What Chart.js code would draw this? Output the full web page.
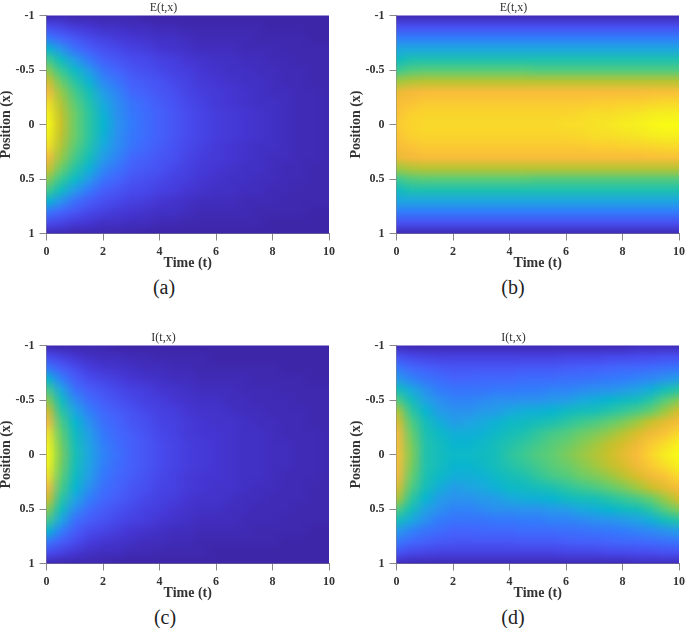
<!DOCTYPE html>
<html>
<head>
<meta charset="utf-8">
<script src="https://cdn.jsdelivr.net/npm/chart.js@4/dist/chart.umd.min.js"></script>
<style>
    html, body { margin:0; padding:0; background:#fff; overflow:hidden; }
    body { position:relative; width:685px; height:628px; }
    canvas { position:absolute; }
    .caption { position:absolute; width:60px; text-align:center; font:20px "Liberation Serif", serif; color:#222; }
</style>
</head>
<body>
<canvas id="chartA" width="341" height="272" style="left:-2px;top:0"></canvas>
<canvas id="chartB" width="337" height="272" style="left:348px;top:0"></canvas>
<canvas id="chartC" width="341" height="272" style="left:-2px;top:330px"></canvas>
<canvas id="chartD" width="337" height="272" style="left:348px;top:330px"></canvas>
<div class="caption" style="left:134px;top:276px">(a)</div>
<div class="caption" style="left:483px;top:276px">(b)</div>
<div class="caption" style="left:135px;top:606px">(c)</div>
<div class="caption" style="left:483px;top:606px">(d)</div>
<script>
// Grid the surfaces were read on
const timeGrid = [0,0.5,1,1.5,2,2.5,3,3.5,4,4.5,5,5.5,6,6.5,7,7.5,8,8.5,9,9.5,10];
const positionGrid = [-1,-0.9,-0.8,-0.7,-0.6,-0.5,-0.4,-0.3,-0.2,-0.1,0,0.1,0.2,0.3,0.4,0.5,0.6,0.7,0.8,0.9,1];
const timeTicks = [0,2,4,6,8,10];
const positionTicks = [-1,-0.5,0,0.5,1];
const titles = ["E(t,x)","E(t,x)","I(t,x)","I(t,x)"];

// Surface values in percent of the colour range, one line per position
const surfaceA = [
    [2,2,1,1,1,1,1,0,0,0,0,0,0,0,0,0,0,0,0,0,0],
    [12,10,7,6,4,4,3,3,2,2,1,1,1,1,1,1,0,0,0,0,0],
    [24,19,15,11,9,7,6,5,4,4,3,2,2,2,2,1,1,1,1,0,0],
    [44,32,22,17,13,11,9,8,6,5,4,3,3,3,2,2,2,1,1,1,1],
    [58,47,34,24,18,15,12,11,9,8,6,5,4,4,3,3,2,2,1,1,1],
    [67,56,46,34,23,19,15,13,11,9,8,6,5,4,4,3,3,2,2,1,1],
    [76,63,53,42,29,23,18,16,14,11,9,7,6,5,4,4,3,2,2,1,1],
    [82,68,58,49,35,27,20,18,15,13,10,8,7,6,5,4,3,3,2,2,1],
    [91,71,61,52,39,30,23,20,17,14,11,9,7,6,5,4,4,3,2,2,1],
    [97,73,63,54,42,31,24,21,18,15,12,10,8,7,6,5,4,3,2,2,1],
    [100,74,63,54,44,32,25,21,18,15,12,10,8,7,6,5,4,3,2,2,1],
    [97,73,63,54,42,31,24,21,18,15,12,10,8,7,6,5,4,3,2,2,1],
    [91,71,61,52,39,30,23,20,17,14,11,9,7,6,5,4,4,3,2,2,1],
    [82,68,58,49,35,27,20,18,15,13,10,8,7,6,5,4,3,3,2,2,1],
    [76,63,53,42,29,23,18,16,14,11,9,7,6,5,4,4,3,2,2,1,1],
    [67,56,46,34,23,19,15,13,11,9,8,6,5,4,4,3,3,2,2,1,1],
    [58,47,34,24,18,15,12,11,9,8,6,5,4,4,3,3,2,2,1,1,1],
    [44,32,22,17,13,11,9,8,6,5,4,3,3,3,2,2,2,1,1,1,1],
    [24,19,15,11,9,7,6,5,4,4,3,2,2,2,2,1,1,1,1,0,0],
    [12,10,7,6,4,4,3,3,2,2,1,1,1,1,1,1,0,0,0,0,0],
    [2,2,1,1,1,1,1,0,0,0,0,0,0,0,0,0,0,0,0,0,0]
];
const surfaceB = [
    [2,2,2,2,2,2,2,2,2,2,2,2,2,2,2,2,2,2,2,2,2],
    [13,13,13,13,13,13,13,13,13,13,13,13,13,13,13,13,13,13,13,13,13],
    [25,25,25,25,25,25,25,25,25,25,25,25,25,25,25,25,25,25,25,25,25],
    [38,38,38,38,38,38,38,38,38,38,38,38,38,38,38,38,38,38,38,38,38],
    [47,51,51,51,51,51,51,51,51,51,51,51,51,51,51,51,51,51,51,51,51],
    [57,60,61,61,61,61,61,61,61,61,60,60,60,60,60,60,60,60,60,60,60],
    [69,71,72,72,72,72,72,72,72,72,72,72,72,72,72,72,72,72,72,72,72],
    [79,81,82,82,82,82,82,82,82,82,82,82,82,82,82,82,82,82,83,83,83],
    [82,84,86,86,86,86,86,86,86,86,86,86,86,86,87,87,88,88,89,90,90],
    [84,88,89,89,89,89,89,89,89,89,89,89,89,90,91,91,92,93,95,96,96],
    [86,89,90,90,90,90,90,90,90,90,90,90,91,91,92,93,95,96,98,100,100],
    [84,88,89,89,89,89,89,89,89,89,89,89,89,90,91,91,92,93,95,96,96],
    [82,84,86,86,86,86,86,86,86,86,86,86,86,86,87,87,88,88,89,90,90],
    [79,81,82,82,82,82,82,82,82,82,82,82,82,82,82,82,82,82,83,83,83],
    [69,71,72,72,72,72,72,72,72,72,72,72,72,72,72,72,72,72,72,72,72],
    [57,60,61,61,61,61,61,61,61,61,60,60,60,60,60,60,60,60,60,60,60],
    [47,51,51,51,51,51,51,51,51,51,51,51,51,51,51,51,51,51,51,51,51],
    [38,38,38,38,38,38,38,38,38,38,38,38,38,38,38,38,38,38,38,38,38],
    [25,25,25,25,25,25,25,25,25,25,25,25,25,25,25,25,25,25,25,25,25],
    [13,13,13,13,13,13,13,13,13,13,13,13,13,13,13,13,13,13,13,13,13],
    [2,2,2,2,2,2,2,2,2,2,2,2,2,2,2,2,2,2,2,2,2]
];
const surfaceC = [
    [2,1,1,1,1,0,0,0,0,0,0,0,0,0,0,0,0,0,0,0,0],
    [12,9,6,4,3,3,2,2,1,1,1,1,0,0,0,0,0,0,0,0,0],
    [24,17,12,8,6,5,4,3,3,2,2,1,1,1,1,1,1,0,0,0,0],
    [44,26,17,12,10,8,6,5,4,3,3,2,2,2,2,1,1,1,1,0,0],
    [58,38,22,17,14,11,9,8,6,5,4,3,3,3,2,2,2,1,1,1,1],
    [67,48,30,21,17,14,11,9,8,6,5,4,4,3,3,2,2,2,1,1,1],
    [76,54,38,26,20,17,14,11,9,8,6,5,5,4,3,3,2,2,2,1,1],
    [82,59,44,31,22,19,15,13,10,9,7,6,5,5,4,3,3,2,2,1,1],
    [91,62,47,35,24,20,17,14,11,9,7,6,6,5,4,4,3,2,2,2,1],
    [97,64,49,37,26,21,18,15,12,10,8,7,6,5,4,4,3,3,2,2,1],
    [100,65,50,38,27,22,18,15,12,10,8,7,6,5,4,4,3,3,2,2,1],
    [97,64,49,37,26,21,18,15,12,10,8,7,6,5,4,4,3,3,2,2,1],
    [91,62,47,35,24,20,17,14,11,9,7,6,6,5,4,4,3,2,2,2,1],
    [82,59,44,31,22,19,15,13,10,9,7,6,5,5,4,3,3,2,2,1,1],
    [76,54,38,26,20,17,14,11,9,8,6,5,5,4,3,3,2,2,2,1,1],
    [67,48,30,21,17,14,11,9,8,6,5,4,4,3,3,2,2,2,1,1,1],
    [58,38,22,17,14,11,9,8,6,5,4,3,3,3,2,2,2,1,1,1,1],
    [44,26,17,12,10,8,6,5,4,3,3,2,2,2,2,1,1,1,1,0,0],
    [24,17,12,8,6,5,4,3,3,2,2,1,1,1,1,1,1,0,0,0,0],
    [12,9,6,4,3,3,2,2,1,1,1,1,0,0,0,0,0,0,0,0,0],
    [2,1,1,1,1,0,0,0,0,0,0,0,0,0,0,0,0,0,0,0,0]
];
const surfaceD = [
    [3,2,2,2,2,2,2,2,2,2,2,2,2,2,2,2,2,3,3,3,3],
    [14,11,10,9,9,9,9,9,9,9,9,9,10,10,10,11,11,12,12,13,13],
    [24,20,18,16,15,15,15,15,15,16,16,16,17,18,18,19,20,20,21,22,23],
    [34,27,23,21,19,19,20,20,20,21,21,21,22,22,23,24,25,27,29,32,35],
    [49,39,31,25,23,23,23,24,24,25,25,27,27,29,31,32,34,37,41,49,53],
    [60,49,37,31,27,27,29,31,31,32,32,34,35,39,41,44,47,49,54,61,66],
    [71,55,44,35,32,32,34,35,39,41,42,44,47,49,50,53,56,59,63,69,76],
    [77,60,49,41,35,37,39,42,46,47,49,51,54,57,59,62,65,69,74,78,82],
    [81,63,51,46,41,41,42,46,49,51,55,58,60,63,65,68,72,76,80,84,90],
    [82,65,52,48,44,44,46,49,52,55,58,61,63,66,69,73,76,80,86,91,97],
    [83,66,52,48,46,46,47,49,54,57,60,62,65,68,71,74,78,82,89,95,100],
    [82,65,52,48,44,44,46,49,52,55,58,61,63,66,69,73,76,80,86,91,97],
    [81,63,51,46,41,41,42,46,49,51,55,58,60,63,65,68,72,76,80,84,90],
    [77,60,49,41,35,37,39,42,46,47,49,51,54,57,59,62,65,69,74,78,82],
    [71,55,44,35,32,32,34,35,39,41,42,44,47,49,50,53,56,59,63,69,76],
    [60,49,37,31,27,27,29,31,31,32,32,34,35,39,41,44,47,49,54,61,66],
    [49,39,31,25,23,23,23,24,24,25,25,27,27,29,31,32,34,37,41,49,53],
    [34,27,23,21,19,19,20,20,20,21,21,21,22,22,23,24,25,27,29,32,35],
    [24,20,18,16,15,15,15,15,15,16,16,16,17,18,18,19,20,20,21,22,23],
    [14,11,10,9,9,9,9,9,9,9,9,9,10,10,10,11,11,12,12,13,13],
    [3,2,2,2,2,2,2,2,2,2,2,2,2,2,2,2,2,3,3,3,3]
];

// Parula, sampled evenly from 0 to 100
const parula = [[62,38,168],[69,55,213],[72,77,240],[69,99,253],[50,124,252],[43,145,239],[32,165,227],[8,181,208],[25,191,182],[55,200,151],[100,205,111],[157,201,67],[209,191,39],[248,186,61],[252,207,48],[245,233,36],[249,251,21]];

function colourFor(v) {
    const pos = Math.min(v / 100, 1) * (parula.length - 1);
    const i = Math.min(Math.floor(pos), parula.length - 2);
    const f = pos - i;
    return parula[i].map((c, k) => Math.round(c + (parula[i + 1][k] - c) * f));
}

// Paints the grid as one small image and lets the canvas smooth it, like shading interp
const heatLayer = {
    id: 'heatLayer',
    beforeDatasetsDraw(chart) {
        const points = chart.data.datasets[0].data;
        const cols = timeGrid.length, rows = positionGrid.length;
        const off = document.createElement('canvas');
        off.width = cols;
        off.height = rows;
        const octx = off.getContext('2d');
        const img = octx.createImageData(cols, rows);
        points.forEach((p, n) => {
            const rgb = colourFor(p.v);
            img.data.set([rgb[0], rgb[1], rgb[2], 255], n * 4);
        });
        octx.putImageData(img, 0, 0);

        const sx = chart.scales.x, sy = chart.scales.y;
        const halfT = (timeGrid[1] - timeGrid[0]) / 2;
        const halfP = (positionGrid[1] - positionGrid[0]) / 2;
        const x0 = sx.getPixelForValue(timeGrid[0] - halfT);
        const x1 = sx.getPixelForValue(timeGrid[cols - 1] + halfT);
        const y0 = sy.getPixelForValue(positionGrid[0] - halfP);
        const y1 = sy.getPixelForValue(positionGrid[rows - 1] + halfP);

        const ctx = chart.ctx, area = chart.chartArea;
        ctx.save();
        ctx.beginPath();
        ctx.rect(area.left, area.top, area.right - area.left, area.bottom - area.top);
        ctx.clip();
        ctx.imageSmoothingEnabled = true;
        ctx.imageSmoothingQuality = 'low';
        ctx.drawImage(off, x0, y0, x1 - x0, y1 - y0);
        ctx.restore();
    }
};

function makeChart(id, surface, title, rightPad) {
    const cells = [];
    surface.forEach((row, r) => row.forEach((v, c) => {
        cells.push({ x: timeGrid[c], y: positionGrid[r], v: v });
    }));
    const boldFont = { family: '"Liberation Serif", serif', size: 12, weight: 'bold' };
    const labelFont = { family: '"Liberation Serif", serif', size: 14, weight: 'bold', lineHeight: 1.2 };
    new Chart(document.getElementById(id), {
        type: 'scatter',
        data: { datasets: [{ data: cells, pointRadius: 0, pointHoverRadius: 0 }] },
        plugins: [heatLayer],
        options: {
            responsive: false,
            animation: false,
            layout: { padding: { top: 0.3, right: rightPad, bottom: 0.5, left: 0 } },
            plugins: {
                legend: { display: false },
                tooltip: { enabled: false },
                title: {
                    display: true,
                    text: title,
                    color: '#333',
                    font: { family: '"Liberation Serif", serif', size: 12, weight: 'normal', lineHeight: 1.2 },
                    padding: { top: 0, bottom: 0.8 }
                }
            },
            scales: {
                x: {
                    type: 'linear',
                    min: 0,
                    max: 10,
                    afterBuildTicks: (s) => { s.ticks = timeTicks.map(v => ({ value: v })); },
                    afterFit: (s) => { s.height = 38; s.paddingLeft = 0; s.paddingRight = 0; },
                    grid: { drawOnChartArea: false, color: '#888', tickLength: 7 },
                    border: { color: '#888' },
                    ticks: { color: '#333', font: boldFont, padding: 4, maxRotation: 0, callback: (v) => String(v) },
                    title: { display: true, text: 'Time (t)', color: '#333', padding: 0, font: labelFont }
                },
                y: {
                    type: 'linear',
                    reverse: true,
                    min: -1,
                    max: 1,
                    afterBuildTicks: (s) => { s.ticks = positionTicks.map(v => ({ value: v })); },
                    afterFit: (s) => { s.width = 48.5; s.paddingTop = 0; s.paddingBottom = 0; },
                    grid: { drawOnChartArea: false, color: '#888', tickLength: 7 },
                    border: { color: '#888' },
                    ticks: { color: '#333', font: boldFont, padding: 5, callback: (v) => String(v) },
                    title: { display: true, text: 'Position (x)', color: '#333', padding: 0, font: labelFont }
                }
            }
        }
    });
}

makeChart('chartA', surfaceA, titles[0], 10);
makeChart('chartB', surfaceB, titles[1], 6);
makeChart('chartC', surfaceC, titles[2], 10);
makeChart('chartD', surfaceD, titles[3], 6);
</script>
</body>
</html>
